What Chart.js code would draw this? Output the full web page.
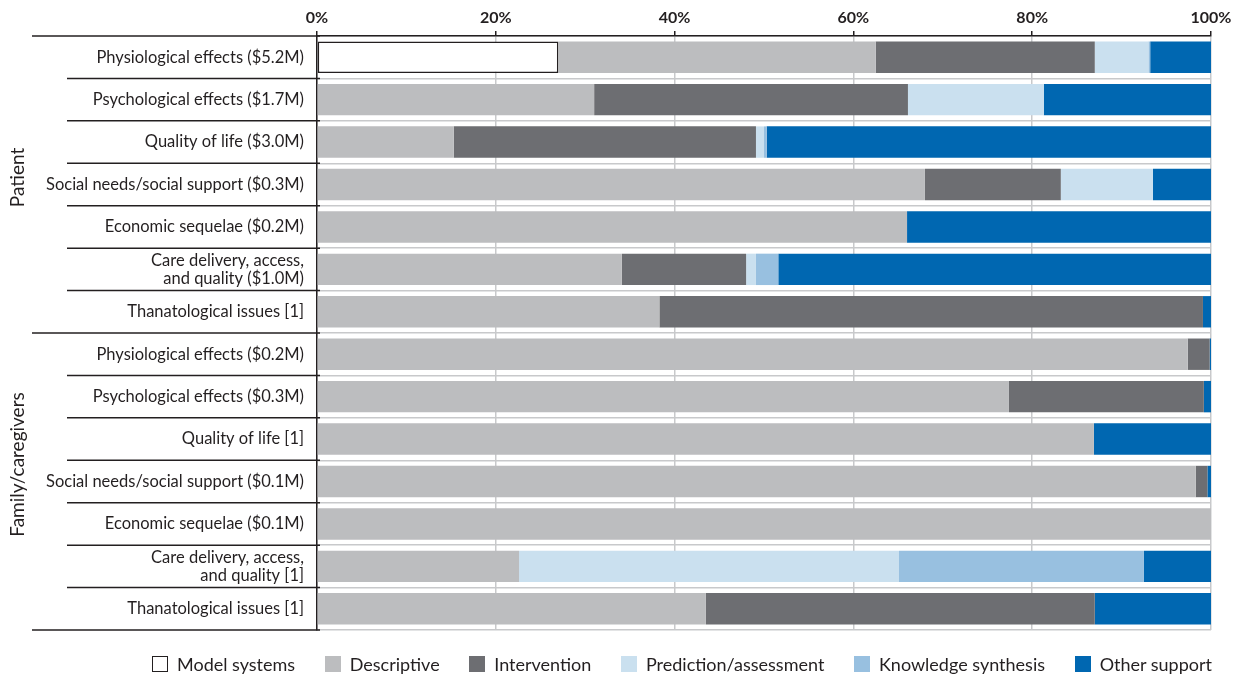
<!DOCTYPE html>
<html>
<head>
<meta charset="utf-8">
<script src="https://cdn.jsdelivr.net/npm/chart.js@4.4.1/dist/chart.umd.min.js"></script>
<style>
  html, body { margin: 0; padding: 0; background: #fff; }
  #wrap { position: relative; width: 1247px; height: 675px; }
  #legend {
    position: absolute; left: 152px; width: 1060px; top: 654px;
    display: flex; justify-content: space-between; align-items: center;
    font-family: Lato, sans-serif; font-size: 18px; color: #231f20; line-height: 20px;
  }
  #legend span.item { display: flex; align-items: center; white-space: nowrap; }
  #legend span.box { width: 16px; height: 16px; margin-right: 9px; box-sizing: border-box; display: inline-block; }
</style>
</head>
<body>
<div id="wrap">
  <canvas id="chart" width="1247" height="675"></canvas>
  <div id="legend"></div>
</div>
<script>
// row labels, top to bottom
const categories = [
  'Physiological effects ($5.2M)',
  'Psychological effects ($1.7M)',
  'Quality of life ($3.0M)',
  'Social needs/social support ($0.3M)',
  'Economic sequelae ($0.2M)',
  ['Care delivery, access,', 'and quality ($1.0M)'],
  'Thanatological issues [1]',
  'Physiological effects ($0.2M)',
  'Psychological effects ($0.3M)',
  'Quality of life [1]',
  'Social needs/social support ($0.1M)',
  'Economic sequelae ($0.1M)',
  ['Care delivery, access,', 'and quality [1]'],
  'Thanatological issues [1]'
];
const groups = ['Patient', 'Family/caregivers'];
const groupSizes = [7, 7];

// share of each row (%)
const modelSystems = [27.0, null, null, null, null, null, null, null, null, null, null, null, null, null];
const descriptive  = [35.5, 31.0, 15.3, 68.0, 66.0, 34.1, 38.3, 97.4, 77.4, 86.9, 98.3, 100, 22.6, 43.5];
const intervention = [24.5, 35.1, 33.8, 15.2, 0, 13.9, 60.8, 2.45, 21.8, 0, 1.3, 0, 0, 43.5];
const prediction   = [6.0, 15.2, 0.9, 10.3, 0, 1.1, 0, 0, 0, 0, 0, 0, 42.5, 0];
const knowledge    = [0.2, 0, 0.3, 0, 0, 2.5, 0, 0, 0, 0, 0, 0, 27.4, 0];
const otherSupport = [6.8, 18.7, 49.7, 6.5, 34.0, 48.4, 0.9, 0.15, 0.8, 13.1, 0.4, 0, 7.5, 13.0];

const xTicks = [0, 20, 40, 60, 80, 100];

const ink = '#231f20';
const gridGray = '#c8c9cb';
const font = 'Lato, sans-serif';

const series = [
  { label: 'Model systems', data: modelSystems, color: '#ffffff', border: ink },
  { label: 'Descriptive', data: descriptive, color: '#bcbdbf' },
  { label: 'Intervention', data: intervention, color: '#6d6e72' },
  { label: 'Prediction/assessment', data: prediction, color: '#cae0ef' },
  { label: 'Knowledge synthesis', data: knowledge, color: '#98c0e0' },
  { label: 'Other support', data: otherSupport, color: '#0067b1' }
];

// separators and group labels in the label column
const frame = {
  id: 'frame',
  afterDraw(chart) {
    const { ctx, chartArea, scales: { y } } = chart;
    const step = y.getPixelForValue(1) - y.getPixelForValue(0);
    const edges = [0];
    groupSizes.forEach(n => edges.push(edges[edges.length - 1] + n));
    ctx.save();
    ctx.strokeStyle = ink;
    ctx.lineWidth = 1.5;
    for (let i = 0; i <= categories.length; i++) {
      const py = y.getPixelForValue(i) - step / 2;
      const startX = edges.includes(i) ? 32 : 67;
      ctx.beginPath();
      ctx.moveTo(startX, py);
      ctx.lineTo(chartArea.left + 3, py);
      ctx.stroke();
    }
    ctx.fillStyle = ink;
    ctx.font = '19px ' + font;
    ctx.textAlign = 'center';
    ctx.textBaseline = 'middle';
    const nudge = [-7, -17];
    groups.forEach((g, k) => {
      const mid = (y.getPixelForValue(edges[k]) + y.getPixelForValue(edges[k + 1] - 1)) / 2 + nudge[k];
      ctx.save();
      ctx.translate(18, mid);
      ctx.rotate(-Math.PI / 2);
      ctx.fillText(g, 0, 0);
      ctx.restore();
    });
    ctx.restore();
  }
};

new Chart(document.getElementById('chart'), {
  type: 'bar',
  data: {
    labels: categories,
    datasets: series.map(s => ({
      label: s.label,
      data: s.data,
      backgroundColor: s.color,
      borderColor: s.border || s.color,
      borderWidth: s.border ? 1.5 : 0,
      borderSkipped: false,
      barPercentage: 0.74,
      categoryPercentage: 1
    }))
  },
  options: {
    indexAxis: 'y',
    responsive: false,
    animation: false,
    layout: { padding: { left: 0, right: 36, top: 0, bottom: 45 } },
    plugins: { legend: { display: false }, tooltip: { enabled: false } },
    scales: {
      x: {
        position: 'top',
        stacked: true,
        min: 0,
        max: 100,
        afterBuildTicks: s => { s.ticks = xTicks.map(v => ({ value: v })); },
        afterFit: s => { s.height = 36; },
        ticks: {
          callback: v => v + '%',
          color: ink,
          padding: 4,
          maxRotation: 0,
          font: { family: font, size: 16, weight: 'bold' }
        },
        grid: { color: gridGray, lineWidth: 1.5, tickLength: 5, tickColor: ink },
        border: { color: ink, width: 1.5 }
      },
      y: {
        stacked: true,
        afterFit: s => { s.width = 317; },
        ticks: {
          color: ink,
          padding: 13,
          font: { family: font, size: 16.5, lineHeight: 1.08 }
        },
        grid: { color: gridGray, lineWidth: 1.5, offset: true, drawTicks: false },
        border: { color: ink, width: 1.5 }
      }
    }
  },
  plugins: [frame]
});

// legend built from the same series
const legend = document.getElementById('legend');
series.forEach(s => {
  const item = document.createElement('span');
  item.className = 'item';
  const box = document.createElement('span');
  box.className = 'box';
  box.style.background = s.color;
  if (s.border) box.style.border = '1.5px solid ' + s.border;
  item.appendChild(box);
  item.appendChild(document.createTextNode(s.label));
  legend.appendChild(item);
});
</script>
</body>
</html>
